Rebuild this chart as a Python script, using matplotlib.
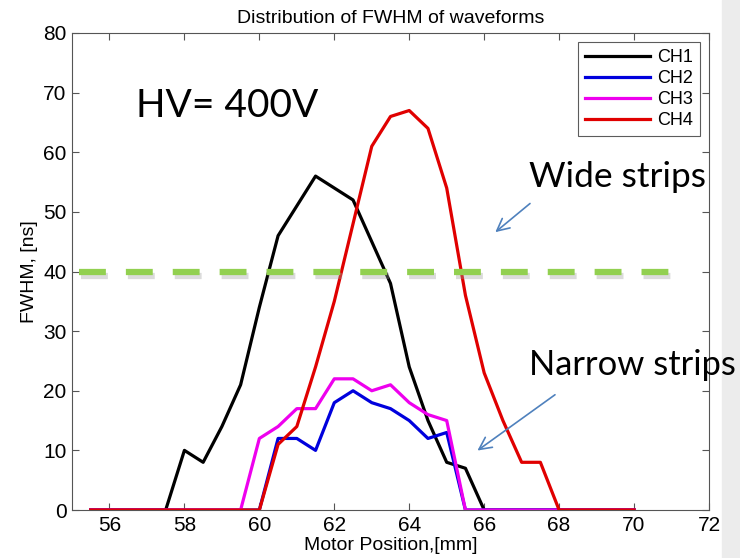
import numpy as np
import matplotlib
matplotlib.use('Agg')
import matplotlib.pyplot as plt
from matplotlib.patches import Rectangle

# motor positions, 0.5 mm steps
pos = np.arange(55.5, 70.01, 0.5)

ch1 = [0, 0, 0, 0, 0, 10, 8, 14, 21, 34, 46, 51, 56, 54, 52, 45, 38, 24, 15, 8, 7, 0,
       0, 0, 0, 0, 0, 0, 0, 0]
ch2 = [0, 0, 0, 0, 0, 0, 0, 0, 0, 0, 12, 12, 10, 18, 20, 18, 17, 15, 12, 13, 0,
       0, 0, 0, 0, 0, 0, 0, 0, 0]
ch3 = [0, 0, 0, 0, 0, 0, 0, 0, 0, 12, 14, 17, 17, 22, 22, 20, 21, 18, 16, 15, 0,
       0, 0, 0, 0, 0, 0, 0, 0, 0]
ch4 = [0, 0, 0, 0, 0, 0, 0, 0, 0, 0, 11, 14, 24, 35, 48, 61, 66, 67, 64, 54, 36,
       23, 15, 8, 8, 0, 0, 0, 0, 0]

labels = ['CH1', 'CH2', 'CH3', 'CH4']
colors = ['#000000', '#0000dd', '#ee00ee', '#e00000']

fig = plt.figure(figsize=(7.4, 5.58), dpi=100)
ax = fig.add_axes([72/740, 1 - 510/558, (709 - 72)/740, (510 - 33)/558])

for y, lab, c in zip([ch1, ch2, ch3, ch4], labels, colors):
    ax.plot(pos, y, color=c, lw=2.3, label=lab)

ax.set_xlim(55, 72)
ax.set_ylim(0, 80)
ax.set_xticks(np.arange(56, 73, 2))
ax.set_yticks(np.arange(0, 81, 10))
ax.tick_params(direction='in', top=True, right=True, labelsize=15, length=5,
               color='#555555', pad=4)
for s in ax.spines.values():
    s.set_color('#555555')
    s.set_linewidth(0.8)
for t in ax.get_xticklabels() + ax.get_yticklabels():
    t.set_family('Liberation Sans')

ax.set_title('Distribution of FWHM of waveforms', fontsize=14, family='Liberation Sans', pad=7)
ax.set_xlabel('Motor Position,[mm]', fontsize=14, family='Liberation Sans', labelpad=2)
ax.set_ylabel('FWHM, [ns]', fontsize=14, family='Liberation Sans', labelpad=4)

leg = ax.legend(loc='upper right', bbox_to_anchor=(0.986, 0.981), borderaxespad=0,
                prop={'family': 'Liberation Sans', 'size': 13}, fancybox=False,
                handlelength=3.6, handletextpad=0.4, borderpad=0.4, labelspacing=0.22)
leg.get_frame().set_edgecolor('#333333')
leg.get_frame().set_linewidth(0.8)

# threshold line with a soft shadow
ax.plot([55.25, 71.35], [39.3, 39.3], color='#999999', alpha=0.35, lw=4.5,
        dashes=(4.3, 3.2), clip_on=False, zorder=3)
ax.plot([55.2, 71.3], [40, 40], color='#92d050', lw=4.5,
        dashes=(4.3, 3.2), clip_on=False, zorder=4)

ax.text(56.72, 65.9, 'HV= 400V', fontsize=28, family='Lato', va='baseline')
ax.text(67.2, 54.2, 'Wide strips', fontsize=25.5, family='Lato', va='baseline', clip_on=False)
ax.text(67.2, 22.6, 'Narrow strips', fontsize=24.8, family='Lato', va='baseline', clip_on=False)

arrow = dict(arrowstyle='->', color='#4f81bd', lw=1.2, mutation_scale=22)
ax.annotate('', xy=(66.24, 46.3), xytext=(67.28, 51.7), arrowprops=arrow, annotation_clip=False)
ax.annotate('', xy=(65.76, 9.7), xytext=(67.95, 19.6), arrowprops=arrow, annotation_clip=False)

# slide background strip at right
fig.patches.append(Rectangle((722/740, 0), 18/740, 1, transform=fig.transFigure,
                             color='#ececec', zorder=-1))

fig.savefig('out.png', dpi=100)
